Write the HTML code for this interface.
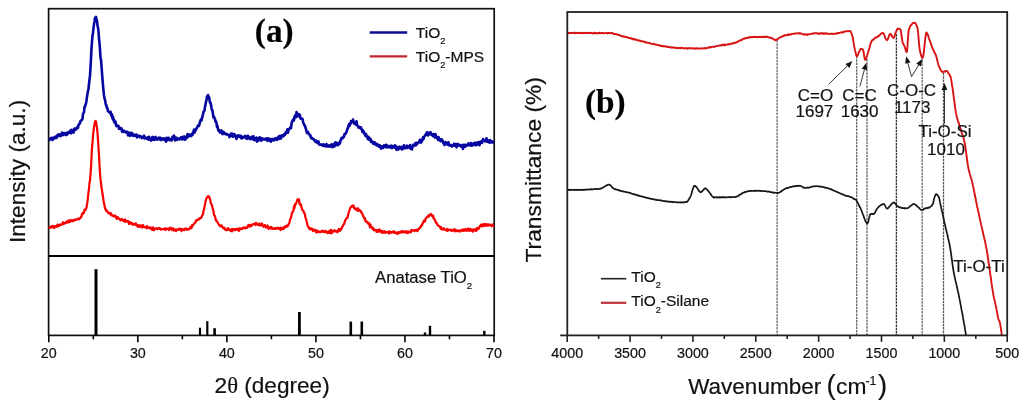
<!DOCTYPE html>
<html><head><meta charset="utf-8"><style>
html,body{margin:0;padding:0;background:#fff;}
body{width:1024px;height:405px;overflow:hidden;}
svg{display:block;will-change:transform;}
text{font-family:"Liberation Sans",sans-serif;fill:#111;stroke:#111;stroke-width:0.2px;}
.tk{font-size:14.3px;text-anchor:middle;}
.lg{font-size:15.5px;}
.lg16{font-size:16.7px;}
.sub{font-size:9.2px;}
.sub16{font-size:9.6px;}
.sup{font-size:13px;}
.lb{font-size:17px;}
.at{font-size:22.6px;}
.bl{font-family:"Liberation Serif",serif;font-weight:bold;font-size:33.3px;fill:#000;}
</style></head><body>
<svg width="1024" height="405" viewBox="0 0 1024 405">
<rect x="48.6" y="8.7" width="445.6" height="326.7" fill="none" stroke="#111" stroke-width="1.7"/>
<line x1="48.6" y1="256" x2="494" y2="256" stroke="#000" stroke-width="1.9"/>
<line x1="48.80" y1="335.3" x2="48.80" y2="342.3" stroke="#000" stroke-width="1.6"/>
<line x1="93.32" y1="335.3" x2="93.32" y2="339.3" stroke="#000" stroke-width="1.6"/>
<line x1="137.84" y1="335.3" x2="137.84" y2="342.3" stroke="#000" stroke-width="1.6"/>
<line x1="182.36" y1="335.3" x2="182.36" y2="339.3" stroke="#000" stroke-width="1.6"/>
<line x1="226.88" y1="335.3" x2="226.88" y2="342.3" stroke="#000" stroke-width="1.6"/>
<line x1="271.40" y1="335.3" x2="271.40" y2="339.3" stroke="#000" stroke-width="1.6"/>
<line x1="315.92" y1="335.3" x2="315.92" y2="342.3" stroke="#000" stroke-width="1.6"/>
<line x1="360.44" y1="335.3" x2="360.44" y2="339.3" stroke="#000" stroke-width="1.6"/>
<line x1="404.96" y1="335.3" x2="404.96" y2="342.3" stroke="#000" stroke-width="1.6"/>
<line x1="449.48" y1="335.3" x2="449.48" y2="339.3" stroke="#000" stroke-width="1.6"/>
<line x1="494.00" y1="335.3" x2="494.00" y2="342.3" stroke="#000" stroke-width="1.6"/>
<text x="48.80" y="358.0" class="tk">20</text>
<text x="137.84" y="358.0" class="tk">30</text>
<text x="226.88" y="358.0" class="tk">40</text>
<text x="315.92" y="358.0" class="tk">50</text>
<text x="404.96" y="358.0" class="tk">60</text>
<text x="494.00" y="358.0" class="tk">70</text>
<rect x="94.50" y="269.2" width="3" height="66.10" fill="#000"/>
<rect x="198.90" y="327.7" width="2.2" height="7.60" fill="#000"/>
<rect x="206.20" y="321.2" width="2.2" height="14.10" fill="#000"/>
<rect x="213.30" y="328.2" width="2.6" height="7.10" fill="#000"/>
<rect x="298.00" y="312" width="2.8" height="23.30" fill="#000"/>
<rect x="349.50" y="321.6" width="2.6" height="13.70" fill="#000"/>
<rect x="360.50" y="321.5" width="2.6" height="13.80" fill="#000"/>
<rect x="423.80" y="332.5" width="2.4" height="2.80" fill="#000"/>
<rect x="428.80" y="325.8" width="2.4" height="9.50" fill="#000"/>
<rect x="483.10" y="330.8" width="2.4" height="4.50" fill="#000"/>
<polyline points="49.00,139.80 49.50,139.96 50.00,139.16 50.50,138.31 51.00,138.62 51.50,137.86 52.00,138.84 52.50,140.08 53.00,137.89 53.50,137.58 54.00,138.63 54.50,138.31 55.00,137.86 55.50,136.55 56.00,137.37 56.50,137.99 57.00,135.57 57.50,136.37 58.00,134.61 58.50,135.11 59.00,134.33 59.50,135.92 60.00,134.61 60.50,136.12 61.00,135.83 61.50,135.28 62.00,132.55 62.50,134.55 63.00,134.92 63.50,134.93 64.00,132.95 64.50,133.93 65.00,133.20 65.50,133.20 66.00,135.07 66.50,132.82 67.00,133.46 67.50,134.27 68.00,132.45 68.50,132.77 69.00,132.81 69.50,132.55 70.00,130.92 70.50,132.13 71.00,133.32 71.50,129.89 72.00,132.28 72.50,131.21 73.00,130.09 73.50,132.71 74.00,131.03 74.50,128.54 75.00,129.58 75.50,129.73 76.00,128.42 76.50,128.85 77.00,127.44 77.50,127.62 78.00,127.80 78.50,124.76 79.00,124.99 79.50,123.49 80.00,123.33 80.50,121.01 81.00,120.70 81.50,120.02 82.00,119.99 82.50,118.77 83.00,114.28 83.50,112.85 84.00,112.27 84.50,107.10 85.00,106.49 85.50,104.57 86.00,103.64 86.50,100.48 87.00,96.66 87.50,93.71 88.00,90.72 88.50,89.36 89.00,83.60 89.50,79.59 90.00,75.39 90.50,67.77 91.00,58.50 91.50,48.20 92.00,41.99 92.50,35.97 93.00,32.84 93.50,28.09 94.00,23.97 94.50,21.71 95.00,17.90 95.50,17.82 96.00,16.91 96.50,19.67 97.00,20.68 97.50,25.69 98.00,27.43 98.50,31.72 99.00,38.64 99.50,43.04 100.00,49.52 100.50,57.40 101.00,59.81 101.50,65.97 102.00,72.84 102.50,79.40 103.00,85.47 103.50,90.77 104.00,95.41 104.50,98.43 105.00,99.53 105.50,102.99 106.00,105.13 106.50,105.56 107.00,108.32 107.50,108.21 108.00,111.21 108.50,111.22 109.00,111.89 109.50,111.89 110.00,113.13 110.50,111.81 111.00,113.56 111.50,116.08 112.00,114.29 112.50,118.56 113.00,116.71 113.50,120.47 114.00,119.68 114.50,122.39 115.00,122.53 115.50,121.45 116.00,125.23 116.50,126.14 117.00,125.16 117.50,125.58 118.00,126.33 118.50,126.03 119.00,128.87 119.50,127.59 120.00,128.61 120.50,128.23 121.00,128.81 121.50,128.46 122.00,131.60 122.50,130.39 123.00,131.95 123.50,131.21 124.00,130.74 124.50,131.44 125.00,131.46 125.50,132.36 126.00,132.19 126.50,132.52 127.00,131.57 127.50,132.43 128.00,135.35 128.50,132.99 129.00,132.77 129.50,134.48 130.00,135.83 130.50,132.84 131.00,134.36 131.50,134.04 132.00,132.93 132.50,135.81 133.00,135.10 133.50,135.33 134.00,134.53 134.50,135.97 135.00,134.99 135.50,135.52 136.00,134.56 136.50,134.54 137.00,137.44 137.50,135.50 138.00,136.47 138.50,136.20 139.00,135.84 139.50,135.86 140.00,137.19 140.50,136.25 141.00,136.51 141.50,136.79 142.00,138.15 142.50,137.69 143.00,137.46 143.50,136.51 144.00,135.70 144.50,138.36 145.00,138.47 145.50,137.35 146.00,138.19 146.50,138.55 147.00,138.69 147.50,138.88 148.00,137.46 148.50,139.71 149.00,136.77 149.50,139.17 150.00,138.85 150.50,139.35 151.00,140.54 151.50,140.19 152.00,137.37 152.50,136.85 153.00,139.68 153.50,137.73 154.00,138.90 154.50,139.91 155.00,137.24 155.50,136.78 156.00,139.44 156.50,139.26 157.00,138.99 157.50,139.34 158.00,138.39 158.50,137.71 159.00,139.23 159.50,138.37 160.00,137.65 160.50,140.03 161.00,139.42 161.50,139.94 162.00,138.41 162.50,138.78 163.00,138.40 163.50,138.52 164.00,139.70 164.50,138.62 165.00,139.86 165.50,139.84 166.00,141.68 166.50,137.90 167.00,140.40 167.50,139.31 168.00,139.37 168.50,137.77 169.00,138.84 169.50,140.14 170.00,139.21 170.50,139.36 171.00,138.93 171.50,140.49 172.00,139.17 172.50,136.74 173.00,138.36 173.50,136.92 174.00,135.48 174.50,138.43 175.00,140.44 175.50,138.99 176.00,137.60 176.50,137.81 177.00,140.04 177.50,138.93 178.00,138.76 178.50,138.60 179.00,138.64 179.50,139.44 180.00,139.10 180.50,138.68 181.00,137.23 181.50,138.88 182.00,137.51 182.50,139.40 183.00,136.73 183.50,137.92 184.00,137.99 184.50,136.46 185.00,139.70 185.50,139.27 186.00,136.99 186.50,138.16 187.00,137.52 187.50,134.00 188.00,136.90 188.50,136.29 189.00,136.18 189.50,134.61 190.00,135.20 190.50,134.98 191.00,136.10 191.50,134.73 192.00,133.88 192.50,135.06 193.00,132.22 193.50,131.81 194.00,129.63 194.50,132.71 195.00,131.38 195.50,130.65 196.00,129.67 196.50,128.34 197.00,127.74 197.50,126.47 198.00,125.72 198.50,125.15 199.00,125.84 199.50,123.82 200.00,122.13 200.50,120.49 201.00,119.30 201.50,120.57 202.00,118.09 202.50,116.24 203.00,114.32 203.50,111.91 204.00,111.37 204.50,110.57 205.00,106.86 205.50,104.39 206.00,101.83 206.50,100.12 207.00,96.46 207.50,96.40 208.00,95.06 208.50,97.45 209.00,96.85 209.50,99.95 210.00,102.68 210.50,102.60 211.00,104.67 211.50,108.02 212.00,110.00 212.50,110.80 213.00,114.20 213.50,117.63 214.00,116.75 214.50,118.34 215.00,118.85 215.50,121.76 216.00,121.45 216.50,123.01 217.00,126.98 217.50,125.82 218.00,129.13 218.50,130.58 219.00,129.94 219.50,130.80 220.00,132.80 220.50,130.86 221.00,130.81 221.50,130.33 222.00,132.19 222.50,134.07 223.00,133.78 223.50,131.94 224.00,132.27 224.50,132.87 225.00,133.95 225.50,133.59 226.00,134.24 226.50,134.50 227.00,134.01 227.50,134.45 228.00,134.88 228.50,134.70 229.00,135.48 229.50,137.12 230.00,135.83 230.50,135.36 231.00,133.56 231.50,135.95 232.00,133.49 232.50,134.18 233.00,136.76 233.50,136.69 234.00,135.84 234.50,134.20 235.00,135.76 235.50,135.50 236.00,137.03 236.50,138.89 237.00,136.71 237.50,135.69 238.00,135.33 238.50,136.62 239.00,136.56 239.50,135.55 240.00,137.01 240.50,135.68 241.00,138.23 241.50,138.23 242.00,138.32 242.50,136.66 243.00,137.80 243.50,137.15 244.00,136.92 244.50,137.03 245.00,136.03 245.50,135.92 246.00,138.44 246.50,137.41 247.00,137.91 247.50,138.83 248.00,135.87 248.50,136.97 249.00,138.08 249.50,138.38 250.00,137.59 250.50,139.19 251.00,138.35 251.50,136.84 252.00,137.21 252.50,139.19 253.00,138.87 253.50,136.34 254.00,139.98 254.50,139.22 255.00,140.10 255.50,138.27 256.00,138.43 256.50,137.59 257.00,141.68 257.50,138.77 258.00,140.77 258.50,138.38 259.00,139.33 259.50,137.38 260.00,138.86 260.50,140.42 261.00,138.02 261.50,140.63 262.00,139.88 262.50,138.41 263.00,139.06 263.50,139.16 264.00,139.65 264.50,139.16 265.00,138.88 265.50,139.49 266.00,138.73 266.50,138.48 267.00,139.87 267.50,140.92 268.00,138.28 268.50,139.98 269.00,139.28 269.50,138.92 270.00,140.94 270.50,139.42 271.00,141.62 271.50,139.09 272.00,140.33 272.50,139.60 273.00,138.95 273.50,140.35 274.00,139.45 274.50,140.18 275.00,139.36 275.50,138.10 276.00,139.05 276.50,139.09 277.00,139.94 277.50,137.73 278.00,138.52 278.50,136.50 279.00,138.94 279.50,136.84 280.00,135.85 280.50,137.57 281.00,138.65 281.50,135.54 282.00,135.80 282.50,135.90 283.00,135.09 283.50,136.28 284.00,134.45 284.50,133.97 285.00,134.81 285.50,132.74 286.00,133.48 286.50,131.38 287.00,130.56 287.50,129.31 288.00,132.80 288.50,129.78 289.00,129.75 289.50,128.74 290.00,128.18 290.50,127.14 291.00,128.10 291.50,123.65 292.00,121.81 292.50,121.14 293.00,119.57 293.50,120.75 294.00,119.90 294.50,117.07 295.00,115.70 295.50,115.99 296.00,117.20 296.50,112.08 297.00,115.58 297.50,113.87 298.00,116.36 298.50,114.27 299.00,115.44 299.50,114.46 300.00,115.43 300.50,118.59 301.00,118.79 301.50,118.44 302.00,119.00 302.50,118.92 303.00,121.62 303.50,123.17 304.00,124.31 304.50,125.51 305.00,125.57 305.50,127.88 306.00,128.96 306.50,131.41 307.00,133.02 307.50,131.77 308.00,132.00 308.50,133.65 309.00,133.88 309.50,134.50 310.00,135.94 310.50,135.49 311.00,137.91 311.50,137.71 312.00,138.66 312.50,138.71 313.00,138.62 313.50,138.86 314.00,140.10 314.50,140.20 315.00,141.48 315.50,141.62 316.00,140.50 316.50,142.45 317.00,141.28 317.50,142.46 318.00,143.19 318.50,141.59 319.00,144.32 319.50,144.70 320.00,144.64 320.50,144.59 321.00,144.85 321.50,144.34 322.00,145.20 322.50,144.95 323.00,145.71 323.50,144.34 324.00,145.97 324.50,145.91 325.00,145.64 325.50,145.35 326.00,146.47 326.50,144.07 327.00,146.43 327.50,146.21 328.00,146.28 328.50,146.40 329.00,145.27 329.50,145.71 330.00,146.70 330.50,146.46 331.00,146.19 331.50,144.25 332.00,146.45 332.50,147.07 333.00,146.80 333.50,145.84 334.00,143.75 334.50,146.37 335.00,145.03 335.50,142.25 336.00,145.28 336.50,143.05 337.00,143.07 337.50,143.53 338.00,145.22 338.50,142.90 339.00,143.00 339.50,143.97 340.00,143.11 340.50,140.55 341.00,139.73 341.50,137.96 342.00,137.90 342.50,138.42 343.00,137.65 343.50,136.57 344.00,136.75 344.50,133.99 345.00,133.94 345.50,133.88 346.00,132.70 346.50,132.15 347.00,130.30 347.50,128.44 348.00,128.14 348.50,125.70 349.00,124.20 349.50,125.89 350.00,124.41 350.50,124.06 351.00,121.18 351.50,122.10 352.00,121.47 352.50,121.05 353.00,119.59 353.50,121.90 354.00,123.54 354.50,123.32 355.00,122.61 355.50,123.64 356.00,124.83 356.50,121.29 357.00,124.52 357.50,125.60 358.00,126.10 358.50,127.60 359.00,127.37 359.50,126.89 360.00,127.33 360.50,128.36 361.00,127.46 361.50,128.61 362.00,130.28 362.50,132.10 363.00,130.45 363.50,131.26 364.00,132.22 364.50,134.20 365.00,133.47 365.50,135.93 366.00,134.07 366.50,135.74 367.00,136.49 367.50,138.26 368.00,139.15 368.50,136.87 369.00,138.04 369.50,139.90 370.00,139.26 370.50,138.76 371.00,141.99 371.50,141.79 372.00,142.18 372.50,141.48 373.00,143.48 373.50,142.42 374.00,144.21 374.50,142.31 375.00,142.70 375.50,144.18 376.00,143.50 376.50,145.32 377.00,145.16 377.50,144.12 378.00,145.46 378.50,145.21 379.00,146.78 379.50,145.21 380.00,145.52 380.50,147.40 381.00,148.59 381.50,148.38 382.00,146.31 382.50,146.53 383.00,148.02 383.50,146.24 384.00,145.35 384.50,146.59 385.00,147.00 385.50,145.63 386.00,144.76 386.50,145.02 387.00,147.37 387.50,145.83 388.00,146.54 388.50,146.95 389.00,147.42 389.50,146.40 390.00,147.34 390.50,145.83 391.00,146.43 391.50,145.73 392.00,148.12 392.50,146.86 393.00,146.10 393.50,146.55 394.00,146.71 394.50,147.75 395.00,145.24 395.50,145.88 396.00,146.63 396.50,149.85 397.00,148.14 397.50,146.99 398.00,147.92 398.50,149.42 399.00,146.93 399.50,146.80 400.00,148.56 400.50,147.79 401.00,148.01 401.50,146.73 402.00,149.43 402.50,149.21 403.00,147.97 403.50,148.12 404.00,145.16 404.50,148.11 405.00,147.21 405.50,147.91 406.00,148.20 406.50,147.08 407.00,145.61 407.50,147.88 408.00,146.67 408.50,147.13 409.00,146.83 409.50,147.12 410.00,144.96 410.50,148.81 411.00,147.68 411.50,148.51 412.00,149.32 412.50,146.97 413.00,144.74 413.50,145.48 414.00,144.85 414.50,145.31 415.00,145.61 415.50,142.96 416.00,145.17 416.50,142.74 417.00,144.33 417.50,143.47 418.00,142.83 418.50,142.67 419.00,141.74 419.50,141.24 420.00,139.65 420.50,141.02 421.00,142.57 421.50,142.15 422.00,140.82 422.50,139.53 423.00,137.40 423.50,139.14 424.00,136.94 424.50,136.35 425.00,135.46 425.50,135.22 426.00,133.99 426.50,133.80 427.00,132.23 427.50,132.70 428.00,135.51 428.50,132.95 429.00,132.83 429.50,133.77 430.00,134.10 430.50,132.25 431.00,133.41 431.50,134.83 432.00,134.30 432.50,134.35 433.00,136.19 433.50,134.05 434.00,135.24 434.50,134.95 435.00,137.56 435.50,134.18 436.00,135.99 436.50,136.54 437.00,138.23 437.50,138.54 438.00,139.81 438.50,136.96 439.00,139.95 439.50,139.25 440.00,139.29 440.50,141.06 441.00,139.89 441.50,139.04 442.00,141.32 442.50,140.47 443.00,141.76 443.50,143.20 444.00,143.42 444.50,145.06 445.00,143.28 445.50,141.97 446.00,142.98 446.50,142.94 447.00,142.76 447.50,144.71 448.00,143.65 448.50,142.30 449.00,145.36 449.50,144.58 450.00,145.20 450.50,145.02 451.00,145.69 451.50,145.12 452.00,146.51 452.50,145.69 453.00,145.72 453.50,145.80 454.00,143.81 454.50,145.28 455.00,145.21 455.50,145.77 456.00,144.08 456.50,147.41 457.00,145.77 457.50,144.36 458.00,143.85 458.50,145.45 459.00,145.69 459.50,145.03 460.00,145.95 460.50,145.17 461.00,146.51 461.50,145.13 462.00,145.90 462.50,147.04 463.00,148.80 463.50,144.88 464.00,145.48 464.50,145.07 465.00,146.86 465.50,144.73 466.00,145.43 466.50,145.90 467.00,144.80 467.50,144.76 468.00,145.21 468.50,143.33 469.00,143.96 469.50,144.99 470.00,145.49 470.50,145.00 471.00,143.13 471.50,144.44 472.00,145.69 472.50,145.29 473.00,144.46 473.50,143.43 474.00,144.96 474.50,143.50 475.00,142.71 475.50,142.98 476.00,145.31 476.50,143.80 477.00,144.67 477.50,142.69 478.00,144.07 478.50,142.19 479.00,142.49 479.50,145.21 480.00,143.12 480.50,141.53 481.00,141.79 481.50,142.05 482.00,142.83 482.50,140.75 483.00,139.13 483.50,140.48 484.00,140.54 484.50,140.38 485.00,141.47 485.50,140.16 486.00,140.54 486.50,138.33 487.00,140.45 487.50,141.89 488.00,140.64 488.50,140.37 489.00,140.59 489.50,142.70 490.00,139.98 490.50,141.09 491.00,141.93 491.50,142.44 492.00,141.33 492.50,142.34 493.00,141.87 493.50,142.48 494.00,142.35" fill="none" stroke="#0606a0" stroke-width="2.6" stroke-linejoin="round"/>
<polyline points="49.00,226.70 49.50,227.40 50.00,227.95 50.50,226.57 51.00,226.98 51.50,227.51 52.00,226.19 52.50,226.96 53.00,225.98 53.50,227.40 54.00,228.10 54.50,227.77 55.00,226.08 55.50,226.62 56.00,226.05 56.50,225.90 57.00,226.77 57.50,224.62 58.00,226.14 58.50,225.22 59.00,226.09 59.50,225.08 60.00,224.33 60.50,224.83 61.00,224.98 61.50,224.30 62.00,224.42 62.50,223.51 63.00,222.17 63.50,224.08 64.00,223.72 64.50,223.11 65.00,222.84 65.50,223.30 66.00,222.04 66.50,221.66 67.00,221.83 67.50,222.61 68.00,220.63 68.50,222.27 69.00,220.85 69.50,220.39 70.00,221.92 70.50,220.86 71.00,219.91 71.50,220.47 72.00,221.28 72.50,221.36 73.00,220.13 73.50,220.62 74.00,220.73 74.50,219.67 75.00,220.25 75.50,219.85 76.00,219.36 76.50,219.24 77.00,219.47 77.50,219.26 78.00,218.64 78.50,218.51 79.00,219.34 79.50,218.42 80.00,218.37 80.50,217.87 81.00,216.59 81.50,216.85 82.00,213.76 82.50,214.07 83.00,212.56 83.50,213.45 84.00,212.75 84.50,209.57 85.00,209.56 85.50,209.87 86.00,208.93 86.50,207.62 87.00,204.67 87.50,201.21 88.00,196.84 88.50,191.87 89.00,188.74 89.50,182.69 90.00,180.55 90.50,174.28 91.00,167.86 91.50,157.16 92.00,147.85 92.50,142.42 93.00,135.97 93.50,131.21 94.00,126.90 94.50,124.49 95.00,121.90 95.50,121.02 96.00,121.38 96.50,125.11 97.00,128.01 97.50,132.88 98.00,140.10 98.50,147.84 99.00,155.60 99.50,165.45 100.00,173.68 100.50,179.17 101.00,182.78 101.50,187.80 102.00,190.16 102.50,194.09 103.00,196.51 103.50,200.48 104.00,203.32 104.50,205.10 105.00,208.51 105.50,208.62 106.00,210.70 106.50,211.07 107.00,210.75 107.50,211.64 108.00,212.80 108.50,213.03 109.00,213.47 109.50,213.65 110.00,212.97 110.50,214.43 111.00,213.36 111.50,215.47 112.00,214.99 112.50,215.26 113.00,215.86 113.50,216.46 114.00,215.51 114.50,215.53 115.00,216.25 115.50,215.79 116.00,216.77 116.50,218.78 117.00,217.13 117.50,218.53 118.00,217.30 118.50,218.66 119.00,218.42 119.50,218.78 120.00,219.39 120.50,220.40 121.00,219.48 121.50,219.60 122.00,219.00 122.50,220.26 123.00,219.84 123.50,220.77 124.00,220.33 124.50,221.75 125.00,219.32 125.50,220.67 126.00,221.68 126.50,221.01 127.00,220.89 127.50,221.45 128.00,220.88 128.50,222.15 129.00,224.00 129.50,223.33 130.00,221.98 130.50,222.39 131.00,222.95 131.50,224.17 132.00,223.12 132.50,223.43 133.00,224.74 133.50,224.92 134.00,224.23 134.50,223.87 135.00,223.72 135.50,224.44 136.00,223.50 136.50,225.72 137.00,224.88 137.50,225.79 138.00,226.88 138.50,226.52 139.00,225.02 139.50,226.55 140.00,226.87 140.50,225.66 141.00,225.63 141.50,226.33 142.00,225.40 142.50,227.66 143.00,225.06 143.50,226.07 144.00,226.76 144.50,226.90 145.00,227.27 145.50,227.44 146.00,227.20 146.50,228.24 147.00,226.03 147.50,227.62 148.00,227.20 148.50,227.88 149.00,228.02 149.50,227.31 150.00,227.57 150.50,228.64 151.00,228.40 151.50,227.75 152.00,229.71 152.50,229.96 153.00,227.38 153.50,228.66 154.00,230.26 154.50,229.10 155.00,228.75 155.50,228.48 156.00,228.29 156.50,228.55 157.00,228.34 157.50,229.27 158.00,228.49 158.50,228.49 159.00,227.98 159.50,228.80 160.00,228.23 160.50,228.75 161.00,229.63 161.50,229.18 162.00,229.30 162.50,229.21 163.00,229.02 163.50,228.91 164.00,228.81 164.50,229.57 165.00,228.30 165.50,230.02 166.00,229.12 166.50,228.59 167.00,228.79 167.50,228.67 168.00,229.27 168.50,228.68 169.00,229.99 169.50,228.66 170.00,227.63 170.50,228.73 171.00,227.85 171.50,229.24 172.00,230.02 172.50,229.75 173.00,228.37 173.50,228.79 174.00,230.58 174.50,229.57 175.00,229.36 175.50,230.11 176.00,231.09 176.50,230.29 177.00,229.49 177.50,229.65 178.00,229.85 178.50,228.99 179.00,228.69 179.50,229.48 180.00,228.78 180.50,229.41 181.00,229.53 181.50,231.10 182.00,228.88 182.50,229.39 183.00,229.37 183.50,229.79 184.00,230.22 184.50,229.15 185.00,228.92 185.50,228.35 186.00,228.85 186.50,229.87 187.00,229.53 187.50,228.79 188.00,229.19 188.50,229.34 189.00,229.46 189.50,228.41 190.00,228.30 190.50,226.79 191.00,226.80 191.50,228.23 192.00,225.02 192.50,225.73 193.00,225.52 193.50,224.49 194.00,223.56 194.50,223.45 195.00,222.86 195.50,222.18 196.00,220.32 196.50,220.95 197.00,219.91 197.50,219.62 198.00,219.70 198.50,219.58 199.00,219.37 199.50,218.01 200.00,218.61 200.50,218.35 201.00,217.83 201.50,217.43 202.00,215.69 202.50,214.88 203.00,214.29 203.50,210.82 204.00,209.62 204.50,206.74 205.00,204.74 205.50,201.63 206.00,199.84 206.50,198.24 207.00,197.25 207.50,196.69 208.00,196.09 208.50,196.38 209.00,196.42 209.50,198.14 210.00,199.05 210.50,201.27 211.00,203.73 211.50,204.22 212.00,205.18 212.50,207.71 213.00,209.37 213.50,211.49 214.00,214.91 214.50,215.66 215.00,215.93 215.50,218.87 216.00,220.60 216.50,220.62 217.00,221.34 217.50,222.26 218.00,223.23 218.50,224.00 219.00,224.89 219.50,225.39 220.00,225.85 220.50,226.42 221.00,226.37 221.50,225.25 222.00,226.62 222.50,227.31 223.00,227.18 223.50,228.42 224.00,227.85 224.50,227.74 225.00,229.67 225.50,229.38 226.00,229.29 226.50,229.98 227.00,230.25 227.50,229.89 228.00,228.06 228.50,229.40 229.00,229.62 229.50,229.30 230.00,230.14 230.50,230.83 231.00,229.64 231.50,229.17 232.00,231.35 232.50,229.58 233.00,228.99 233.50,229.97 234.00,230.04 234.50,229.19 235.00,230.16 235.50,229.19 236.00,228.81 236.50,229.49 237.00,229.82 237.50,228.74 238.00,229.32 238.50,228.92 239.00,230.86 239.50,228.28 240.00,229.63 240.50,228.51 241.00,228.35 241.50,228.83 242.00,228.83 242.50,228.97 243.00,228.20 243.50,227.43 244.00,227.36 244.50,227.97 245.00,227.91 245.50,228.35 246.00,227.51 246.50,227.78 247.00,227.90 247.50,226.74 248.00,225.36 248.50,225.35 249.00,224.93 249.50,226.81 250.00,224.87 250.50,226.09 251.00,225.42 251.50,226.00 252.00,225.31 252.50,224.37 253.00,224.15 253.50,224.23 254.00,224.20 254.50,223.65 255.00,223.98 255.50,225.14 256.00,222.84 256.50,224.26 257.00,223.50 257.50,224.34 258.00,224.88 258.50,224.35 259.00,225.04 259.50,223.50 260.00,225.50 260.50,224.43 261.00,225.42 261.50,225.24 262.00,223.44 262.50,224.85 263.00,225.67 263.50,226.73 264.00,225.97 264.50,226.07 265.00,225.01 265.50,227.12 266.00,227.50 266.50,226.39 267.00,226.36 267.50,225.53 268.00,227.43 268.50,228.86 269.00,227.63 269.50,228.17 270.00,227.83 270.50,226.92 271.00,228.70 271.50,227.05 272.00,227.92 272.50,228.40 273.00,228.96 273.50,228.76 274.00,228.85 274.50,228.15 275.00,227.87 275.50,228.90 276.00,228.42 276.50,228.05 277.00,228.10 277.50,228.66 278.00,227.70 278.50,228.03 279.00,227.79 279.50,229.01 280.00,229.09 280.50,230.13 281.00,227.58 281.50,228.04 282.00,229.02 282.50,228.09 283.00,227.85 283.50,229.11 284.00,227.48 284.50,226.71 285.00,226.38 285.50,227.31 286.00,227.04 286.50,225.60 287.00,225.60 287.50,226.37 288.00,225.91 288.50,224.22 289.00,223.98 289.50,222.59 290.00,219.42 290.50,218.81 291.00,217.62 291.50,215.24 292.00,212.51 292.50,212.30 293.00,211.50 293.50,210.46 294.00,206.20 294.50,208.07 295.00,204.21 295.50,204.55 296.00,203.61 296.50,202.38 297.00,200.92 297.50,199.41 298.00,200.44 298.50,199.80 299.00,199.27 299.50,203.99 300.00,203.50 300.50,205.28 301.00,204.51 301.50,207.44 302.00,208.86 302.50,210.21 303.00,210.49 303.50,211.01 304.00,213.04 304.50,213.06 305.00,214.96 305.50,217.84 306.00,218.74 306.50,220.96 307.00,222.59 307.50,225.51 308.00,226.43 308.50,226.67 309.00,228.51 309.50,227.81 310.00,228.51 310.50,229.61 311.00,228.32 311.50,229.20 312.00,228.66 312.50,229.86 313.00,231.10 313.50,229.60 314.00,230.45 314.50,229.82 315.00,229.79 315.50,229.87 316.00,231.89 316.50,232.65 317.00,231.45 317.50,230.72 318.00,231.82 318.50,231.19 319.00,232.07 319.50,231.79 320.00,231.86 320.50,232.15 321.00,231.38 321.50,231.55 322.00,230.67 322.50,231.61 323.00,230.95 323.50,231.87 324.00,231.32 324.50,232.07 325.00,232.32 325.50,231.00 326.00,231.42 326.50,231.32 327.00,232.49 327.50,233.14 328.00,232.52 328.50,231.66 329.00,232.89 329.50,230.77 330.00,232.84 330.50,231.29 331.00,229.76 331.50,233.50 332.00,232.70 332.50,230.81 333.00,231.58 333.50,231.24 334.00,231.38 334.50,230.19 335.00,230.67 335.50,231.38 336.00,231.11 336.50,231.69 337.00,230.80 337.50,232.28 338.00,230.02 338.50,230.58 339.00,228.93 339.50,229.26 340.00,230.93 340.50,229.09 341.00,229.66 341.50,228.60 342.00,227.12 342.50,226.69 343.00,225.56 343.50,224.48 344.00,224.22 344.50,222.99 345.00,220.99 345.50,219.65 346.00,219.44 346.50,218.18 347.00,217.85 347.50,217.75 348.00,215.17 348.50,213.20 349.00,211.75 349.50,209.96 350.00,208.71 350.50,207.55 351.00,207.05 351.50,206.32 352.00,206.68 352.50,205.72 353.00,205.97 353.50,205.54 354.00,207.95 354.50,207.63 355.00,209.00 355.50,208.74 356.00,209.54 356.50,208.54 357.00,209.39 357.50,210.93 358.00,208.31 358.50,210.14 359.00,210.68 359.50,210.01 360.00,210.54 360.50,211.45 361.00,211.00 361.50,212.90 362.00,213.21 362.50,214.53 363.00,215.56 363.50,216.74 364.00,217.76 364.50,218.77 365.00,218.20 365.50,221.36 366.00,221.47 366.50,221.82 367.00,221.67 367.50,222.44 368.00,223.45 368.50,223.92 369.00,222.98 369.50,225.29 370.00,227.41 370.50,224.55 371.00,227.13 371.50,227.22 372.00,227.39 372.50,228.94 373.00,227.58 373.50,228.99 374.00,230.33 374.50,229.52 375.00,229.69 375.50,230.37 376.00,230.23 376.50,231.86 377.00,230.25 377.50,231.63 378.00,230.17 378.50,231.62 379.00,231.13 379.50,229.41 380.00,231.32 380.50,230.62 381.00,231.12 381.50,232.61 382.00,230.75 382.50,230.85 383.00,232.70 383.50,231.79 384.00,232.87 384.50,232.04 385.00,231.22 385.50,231.85 386.00,232.82 386.50,232.66 387.00,232.02 387.50,232.09 388.00,232.01 388.50,231.71 389.00,233.55 389.50,232.19 390.00,231.40 390.50,231.90 391.00,232.79 391.50,232.76 392.00,232.22 392.50,231.86 393.00,232.38 393.50,231.18 394.00,231.46 394.50,232.99 395.00,232.09 395.50,232.71 396.00,233.33 396.50,232.93 397.00,232.49 397.50,234.01 398.00,232.97 398.50,232.24 399.00,233.02 399.50,232.79 400.00,231.88 400.50,232.55 401.00,232.37 401.50,231.07 402.00,232.34 402.50,232.25 403.00,232.11 403.50,231.22 404.00,232.12 404.50,232.31 405.00,232.37 405.50,231.44 406.00,232.67 406.50,231.29 407.00,231.94 407.50,232.99 408.00,231.49 408.50,231.55 409.00,232.62 409.50,231.50 410.00,231.48 410.50,231.77 411.00,232.28 411.50,229.84 412.00,230.74 412.50,230.51 413.00,230.35 413.50,230.41 414.00,230.30 414.50,231.01 415.00,230.03 415.50,230.63 416.00,230.70 416.50,229.76 417.00,230.24 417.50,231.17 418.00,230.01 418.50,228.98 419.00,228.92 419.50,227.75 420.00,227.95 420.50,227.65 421.00,225.67 421.50,225.29 422.00,225.40 422.50,223.41 423.00,223.06 423.50,221.39 424.00,220.77 424.50,220.27 425.00,221.52 425.50,219.07 426.00,218.29 426.50,217.54 427.00,217.09 427.50,216.96 428.00,215.99 428.50,216.75 429.00,215.03 429.50,215.61 430.00,214.69 430.50,215.03 431.00,213.89 431.50,215.25 432.00,215.81 432.50,216.26 433.00,215.49 433.50,218.28 434.00,218.25 434.50,219.21 435.00,220.40 435.50,221.50 436.00,222.98 436.50,222.75 437.00,223.77 437.50,225.20 438.00,225.55 438.50,225.62 439.00,225.91 439.50,226.14 440.00,227.08 440.50,228.34 441.00,227.14 441.50,229.30 442.00,229.15 442.50,228.56 443.00,229.71 443.50,228.40 444.00,228.45 444.50,228.98 445.00,229.78 445.50,229.99 446.00,229.98 446.50,230.50 447.00,228.99 447.50,230.85 448.00,229.51 448.50,230.04 449.00,230.21 449.50,229.69 450.00,229.54 450.50,229.79 451.00,230.49 451.50,230.91 452.00,230.89 452.50,229.79 453.00,229.93 453.50,229.84 454.00,230.79 454.50,229.05 455.00,231.34 455.50,230.13 456.00,229.91 456.50,230.70 457.00,231.18 457.50,230.69 458.00,231.18 458.50,230.53 459.00,231.29 459.50,231.29 460.00,230.35 460.50,231.41 461.00,230.51 461.50,230.45 462.00,229.74 462.50,230.17 463.00,230.91 463.50,229.43 464.00,230.80 464.50,230.58 465.00,230.52 465.50,228.77 466.00,230.23 466.50,230.74 467.00,229.74 467.50,230.32 468.00,228.58 468.50,230.70 469.00,229.75 469.50,230.81 470.00,228.89 470.50,230.65 471.00,229.99 471.50,230.70 472.00,229.47 472.50,229.67 473.00,231.65 473.50,229.48 474.00,229.55 474.50,229.83 475.00,229.28 475.50,230.76 476.00,230.98 476.50,229.03 477.00,228.01 477.50,229.68 478.00,229.22 478.50,228.59 479.00,228.36 479.50,226.48 480.00,226.51 480.50,225.21 481.00,224.77 481.50,226.07 482.00,224.59 482.50,226.39 483.00,224.66 483.50,224.06 484.00,225.06 484.50,225.79 485.00,224.92 485.50,223.79 486.00,224.98 486.50,225.76 487.00,224.53 487.50,224.40 488.00,225.71 488.50,225.15 489.00,224.32 489.50,224.88 490.00,224.66 490.50,225.44 491.00,225.35 491.50,226.12 492.00,225.85 492.50,224.30 493.00,225.72 493.50,226.10 494.00,225.82" fill="none" stroke="#f80000" stroke-width="2.2" stroke-linejoin="round"/>
<line x1="369.7" y1="32.5" x2="407.2" y2="32.5" stroke="#0c0c96" stroke-width="2.4"/>
<line x1="369.7" y1="56.4" x2="407.2" y2="56.4" stroke="#c0282d" stroke-width="2.2"/>
<text x="415.8" y="37.7" class="lg">TiO<tspan class="sub" dy="6.3">2</tspan></text>
<text x="415.8" y="61.6" class="lg">TiO<tspan class="sub" dy="6.3">2</tspan><tspan dy="-6.3">-MPS</tspan></text>
<text x="375" y="283.1" class="lg16">Anatase TiO<tspan class="sub16" dy="5.9">2</tspan></text>
<text x="254.8" y="41.7" class="bl">(a)</text>
<text transform="translate(25.3,243.0) rotate(-90)" class="at">Intensity (a.u.)</text>
<text x="214.6" y="392.8" class="at">2<tspan font-family="Liberation Serif">θ</tspan> (degree)</text>
<line x1="777.1" y1="40" x2="777.1" y2="335" stroke="#6a6a6a" stroke-width="1.3" stroke-dasharray="2.5,0.8"/>
<line x1="856.7" y1="56" x2="856.7" y2="335" stroke="#666" stroke-width="1.3" stroke-dasharray="2.5,0.8"/>
<line x1="867.0" y1="59" x2="867.0" y2="335" stroke="#666" stroke-width="1.3" stroke-dasharray="2.5,0.8"/>
<line x1="896.4" y1="34" x2="896.4" y2="335" stroke="#333" stroke-width="1.3" stroke-dasharray="2.5,0.8"/>
<line x1="922.2" y1="57" x2="922.2" y2="335" stroke="#6a6a6a" stroke-width="1.3" stroke-dasharray="2.5,0.8"/>
<line x1="943.5" y1="73" x2="943.5" y2="335" stroke="#555" stroke-width="1.3" stroke-dasharray="2.5,0.8"/>
<polyline points="567.00,190.15 567.50,189.92 568.00,189.86 568.50,190.14 569.00,189.84 569.50,189.67 570.00,190.15 570.50,189.88 571.00,189.94 571.50,189.77 572.00,189.78 572.50,189.80 573.00,189.92 573.50,190.02 574.00,189.61 574.50,190.07 575.00,189.77 575.50,189.78 576.00,190.03 576.50,189.91 577.00,189.68 577.50,190.18 578.00,189.77 578.50,189.92 579.00,189.90 579.50,190.07 580.00,189.78 580.50,189.99 581.00,189.71 581.50,189.98 582.00,189.68 582.50,189.72 583.00,190.04 583.50,189.79 584.00,189.74 584.50,190.04 585.00,189.74 585.50,189.55 586.00,189.76 586.50,189.45 587.00,189.77 587.50,189.76 588.00,189.47 588.50,189.44 589.00,189.54 589.50,189.49 590.00,189.31 590.50,189.52 591.00,189.10 591.50,189.31 592.00,189.28 592.50,189.27 593.00,189.33 593.50,189.07 594.00,189.31 594.50,189.16 595.00,189.05 595.50,188.91 596.00,188.90 596.50,189.09 597.00,188.86 597.50,188.97 598.00,189.08 598.50,189.03 599.00,189.07 599.50,188.75 600.00,188.59 600.50,188.82 601.00,188.56 601.50,188.46 602.00,188.04 602.50,187.92 603.00,187.56 603.50,187.22 604.00,186.88 604.50,186.57 605.00,186.28 605.50,186.02 606.00,185.83 606.50,185.30 607.00,185.34 607.50,184.80 608.00,184.77 608.50,184.50 609.00,184.49 609.50,185.00 610.00,184.97 610.50,185.26 611.00,185.84 611.50,186.45 612.00,187.36 612.50,187.59 613.00,188.15 613.50,188.22 614.00,188.66 614.50,188.93 615.00,189.30 615.50,189.12 616.00,189.50 616.50,189.64 617.00,189.61 617.50,189.92 618.00,190.04 618.50,189.88 619.00,190.46 619.50,190.59 620.00,190.58 620.50,190.57 621.00,191.12 621.50,191.05 622.00,191.28 622.50,191.46 623.00,191.28 623.50,191.59 624.00,191.55 624.50,191.68 625.00,191.79 625.50,191.91 626.00,192.19 626.50,192.15 627.00,192.23 627.50,192.32 628.00,192.54 628.50,192.47 629.00,192.66 629.50,192.86 630.00,192.92 630.50,193.12 631.00,193.19 631.50,193.72 632.00,193.77 632.50,193.78 633.00,193.85 633.50,194.33 634.00,194.20 634.50,194.29 635.00,194.50 635.50,194.65 636.00,194.96 636.50,194.90 637.00,195.37 637.50,195.07 638.00,195.46 638.50,195.35 639.00,195.93 639.50,195.75 640.00,195.94 640.50,196.24 641.00,196.44 641.50,196.23 642.00,196.49 642.50,196.48 643.00,196.85 643.50,196.95 644.00,197.06 644.50,197.14 645.00,197.32 645.50,197.40 646.00,197.73 646.50,198.00 647.00,197.61 647.50,198.01 648.00,198.09 648.50,198.34 649.00,198.24 649.50,198.48 650.00,198.45 650.50,198.82 651.00,198.83 651.50,198.90 652.00,199.07 652.50,199.08 653.00,198.98 653.50,199.40 654.00,199.44 654.50,199.47 655.00,199.73 655.50,199.86 656.00,199.60 656.50,199.74 657.00,200.17 657.50,200.24 658.00,200.00 658.50,200.02 659.00,200.18 659.50,200.28 660.00,200.20 660.50,200.52 661.00,200.40 661.50,200.48 662.00,200.88 662.50,200.71 663.00,200.87 663.50,201.04 664.00,201.14 664.50,201.03 665.00,201.15 665.50,201.09 666.00,201.53 666.50,201.43 667.00,201.22 667.50,201.45 668.00,201.61 668.50,201.63 669.00,201.88 669.50,201.87 670.00,201.64 670.50,201.77 671.00,201.64 671.50,201.93 672.00,201.97 672.50,202.41 673.00,202.07 673.50,201.80 674.00,202.06 674.50,202.23 675.00,202.07 675.50,202.17 676.00,202.28 676.50,202.42 677.00,202.38 677.50,202.30 678.00,202.57 678.50,202.39 679.00,202.41 679.50,202.29 680.00,202.38 680.50,202.59 681.00,202.24 681.50,202.46 682.00,202.56 682.50,202.36 683.00,202.42 683.50,202.18 684.00,202.49 684.50,202.41 685.00,202.22 685.50,201.85 686.00,201.88 686.50,202.08 687.00,201.90 687.50,201.23 688.00,200.78 688.50,199.80 689.00,199.09 689.50,198.31 690.00,197.56 690.50,196.26 691.00,195.27 691.50,193.75 692.00,191.68 692.50,189.95 693.00,188.64 693.50,187.15 694.00,185.91 694.50,185.87 695.00,185.77 695.50,185.95 696.00,186.81 696.50,187.14 697.00,187.75 697.50,188.67 698.00,189.31 698.50,190.13 699.00,191.00 699.50,191.43 700.00,191.85 700.50,192.34 701.00,192.15 701.50,191.87 702.00,191.39 702.50,190.85 703.00,190.41 703.50,189.61 704.00,189.37 704.50,188.54 705.00,188.41 705.50,188.21 706.00,188.57 706.50,189.09 707.00,189.76 707.50,190.05 708.00,190.80 708.50,191.38 709.00,191.89 709.50,192.40 710.00,193.27 710.50,193.74 711.00,194.77 711.50,195.48 712.00,196.03 712.50,196.53 713.00,196.87 713.50,197.56 714.00,197.10 714.50,197.53 715.00,197.39 715.50,197.24 716.00,197.12 716.50,197.45 717.00,197.55 717.50,197.15 718.00,197.24 718.50,197.44 719.00,197.33 719.50,197.58 720.00,197.19 720.50,197.35 721.00,197.08 721.50,197.58 722.00,197.15 722.50,196.92 723.00,197.23 723.50,197.22 724.00,197.52 724.50,197.18 725.00,197.22 725.50,197.30 726.00,197.45 726.50,197.19 727.00,197.35 727.50,197.26 728.00,197.13 728.50,197.18 729.00,197.16 729.50,197.01 730.00,197.31 730.50,196.91 731.00,197.29 731.50,197.24 732.00,197.07 732.50,196.96 733.00,197.02 733.50,197.12 734.00,197.14 734.50,197.06 735.00,197.15 735.50,196.87 736.00,196.89 736.50,196.47 737.00,196.63 737.50,196.31 738.00,195.97 738.50,195.91 739.00,195.53 739.50,194.68 740.00,194.77 740.50,194.21 741.00,194.24 741.50,194.12 742.00,193.34 742.50,193.12 743.00,192.79 743.50,192.62 744.00,192.43 744.50,192.34 745.00,191.85 745.50,192.11 746.00,191.62 746.50,191.68 747.00,191.69 747.50,191.51 748.00,191.16 748.50,191.09 749.00,191.03 749.50,191.01 750.00,191.11 750.50,190.68 751.00,190.89 751.50,190.87 752.00,190.84 752.50,190.82 753.00,190.98 753.50,190.83 754.00,190.89 754.50,190.85 755.00,191.05 755.50,190.50 756.00,190.99 756.50,190.78 757.00,190.79 757.50,190.71 758.00,190.59 758.50,190.83 759.00,190.81 759.50,191.01 760.00,190.74 760.50,191.20 761.00,191.05 761.50,191.00 762.00,190.96 762.50,190.98 763.00,190.96 763.50,191.08 764.00,191.19 764.50,191.19 765.00,191.04 765.50,191.25 766.00,191.20 766.50,191.42 767.00,191.74 767.50,191.63 768.00,191.56 768.50,191.45 769.00,191.58 769.50,191.63 770.00,192.09 770.50,191.96 771.00,192.18 771.50,192.18 772.00,192.38 772.50,192.67 773.00,192.44 773.50,192.58 774.00,192.59 774.50,192.91 775.00,192.69 775.50,192.73 776.00,192.73 776.50,192.76 777.00,193.06 777.50,193.39 778.00,192.81 778.50,193.00 779.00,192.73 779.50,192.30 780.00,192.16 780.50,191.86 781.00,191.46 781.50,191.50 782.00,190.56 782.50,190.52 783.00,190.14 783.50,189.64 784.00,189.40 784.50,189.19 785.00,188.80 785.50,188.59 786.00,188.43 786.50,187.87 787.00,188.26 787.50,188.24 788.00,187.91 788.50,187.78 789.00,187.28 789.50,187.34 790.00,187.11 790.50,187.02 791.00,187.13 791.50,186.75 792.00,186.73 792.50,186.36 793.00,186.52 793.50,186.45 794.00,186.24 794.50,186.15 795.00,186.46 795.50,185.92 796.00,185.87 796.50,185.84 797.00,186.09 797.50,186.18 798.00,185.87 798.50,185.68 799.00,185.70 799.50,185.91 800.00,185.61 800.50,186.03 801.00,186.20 801.50,186.25 802.00,186.64 802.50,186.99 803.00,187.44 803.50,187.36 804.00,187.94 804.50,187.88 805.00,187.88 805.50,188.00 806.00,187.92 806.50,187.76 807.00,187.60 807.50,187.61 808.00,187.88 808.50,187.85 809.00,187.54 809.50,187.50 810.00,187.12 810.50,187.06 811.00,186.99 811.50,186.67 812.00,186.56 812.50,186.62 813.00,186.45 813.50,186.25 814.00,186.39 814.50,186.23 815.00,186.38 815.50,186.20 816.00,186.16 816.50,186.23 817.00,186.21 817.50,186.17 818.00,186.25 818.50,186.48 819.00,186.52 819.50,186.69 820.00,186.31 820.50,186.58 821.00,186.65 821.50,186.82 822.00,186.80 822.50,186.87 823.00,187.15 823.50,187.16 824.00,187.06 824.50,187.55 825.00,187.62 825.50,187.51 826.00,187.86 826.50,187.76 827.00,188.19 827.50,188.15 828.00,188.22 828.50,188.45 829.00,188.57 829.50,188.89 830.00,189.07 830.50,189.24 831.00,189.34 831.50,189.07 832.00,189.83 832.50,189.74 833.00,190.27 833.50,190.61 834.00,190.69 834.50,190.80 835.00,191.05 835.50,191.28 836.00,191.43 836.50,191.64 837.00,191.81 837.50,192.35 838.00,192.39 838.50,192.75 839.00,192.79 839.50,193.06 840.00,193.24 840.50,193.55 841.00,193.82 841.50,193.94 842.00,194.01 842.50,194.20 843.00,194.77 843.50,194.68 844.00,194.87 844.50,195.32 845.00,195.44 845.50,195.53 846.00,195.55 846.50,196.12 847.00,195.98 847.50,196.16 848.00,196.21 848.50,196.18 849.00,196.36 849.50,196.78 850.00,196.95 850.50,197.04 851.00,197.09 851.50,197.26 852.00,197.64 852.50,197.70 853.00,198.30 853.50,198.61 854.00,199.14 854.50,199.15 855.00,199.26 855.50,199.57 856.00,199.63 856.50,200.65 857.00,201.44 857.50,202.45 858.00,203.32 858.50,204.30 859.00,205.28 859.50,206.40 860.00,207.58 860.50,208.24 861.00,209.33 861.50,210.26 862.00,211.95 862.50,213.25 863.00,214.60 863.50,215.77 864.00,217.42 864.50,218.75 865.00,220.08 865.50,221.18 866.00,222.23 866.50,222.80 867.00,223.42 867.50,223.41 868.00,222.44 868.50,220.67 869.00,218.41 869.50,216.43 870.00,214.61 870.50,214.04 871.00,213.94 871.50,213.78 872.00,214.14 872.50,213.84 873.00,214.10 873.50,214.06 874.00,213.75 874.50,213.50 875.00,212.67 875.50,211.46 876.00,210.23 876.50,209.61 877.00,208.79 877.50,208.23 878.00,207.50 878.50,207.05 879.00,206.40 879.50,206.08 880.00,205.82 880.50,205.43 881.00,205.04 881.50,204.65 882.00,204.58 882.50,204.38 883.00,204.11 883.50,203.92 884.00,204.08 884.50,204.74 885.00,205.25 885.50,206.52 886.00,207.68 886.50,208.07 887.00,208.71 887.50,208.41 888.00,208.36 888.50,207.61 889.00,206.96 889.50,206.47 890.00,206.02 890.50,205.40 891.00,204.89 891.50,204.06 892.00,203.61 892.50,203.21 893.00,202.95 893.50,202.48 894.00,202.35 894.50,202.75 895.00,203.25 895.50,204.02 896.00,204.61 896.50,204.98 897.00,205.51 897.50,205.99 898.00,206.49 898.50,206.91 899.00,207.13 899.50,207.19 900.00,207.54 900.50,207.43 901.00,207.82 901.50,207.87 902.00,207.67 902.50,208.07 903.00,208.13 903.50,208.05 904.00,208.32 904.50,208.38 905.00,207.95 905.50,208.31 906.00,208.24 906.50,208.25 907.00,208.34 907.50,208.09 908.00,207.96 908.50,207.60 909.00,207.19 909.50,206.82 910.00,206.16 910.50,205.84 911.00,205.74 911.50,205.25 912.00,204.93 912.50,204.24 913.00,204.12 913.50,203.97 914.00,204.01 914.50,204.04 915.00,204.54 915.50,204.76 916.00,205.19 916.50,205.61 917.00,206.11 917.50,206.33 918.00,207.04 918.50,207.45 919.00,207.94 919.50,208.45 920.00,209.01 920.50,209.51 921.00,209.84 921.50,209.98 922.00,210.13 922.50,209.93 923.00,209.87 923.50,209.36 924.00,208.72 924.50,208.92 925.00,208.52 925.50,208.18 926.00,208.22 926.50,208.02 927.00,208.39 927.50,208.06 928.00,207.65 928.50,207.84 929.00,207.54 929.50,207.68 930.00,206.98 930.50,206.48 931.00,206.44 931.50,205.91 932.00,205.34 932.50,204.42 933.00,203.67 933.50,201.80 934.00,198.93 934.50,197.46 935.00,195.83 935.50,195.04 936.00,194.09 936.50,194.06 937.00,194.59 937.50,195.03 938.00,195.54 938.50,196.51 939.00,197.60 939.50,199.40 940.00,202.40 940.50,204.59 941.00,206.91 941.50,209.23 942.00,211.14 942.50,213.39 943.00,215.74 943.50,217.98 944.00,220.31 944.50,222.70 945.00,224.70 945.50,227.07 946.00,229.27 946.50,231.12 947.00,233.38 947.50,235.28 948.00,237.68 948.50,239.77 949.00,241.98 949.50,244.20 950.00,247.02 950.50,249.83 951.00,253.39 951.50,256.86 952.00,260.45 952.50,264.37 953.00,267.82 953.50,270.77 954.00,273.78 954.50,276.08 955.00,278.43 955.50,280.72 956.00,282.73 956.50,284.89 957.00,287.04 957.50,289.44 958.00,291.67 958.50,293.77 959.00,296.53 959.50,298.81 960.00,301.43 960.50,304.10 961.00,306.64 961.50,309.63 962.00,312.01 962.50,314.53 963.00,317.69 963.50,320.25 964.00,323.13 964.50,325.62 965.00,329.16 965.50,332.11 966.00,335.12" fill="none" stroke="#151515" stroke-width="1.7" stroke-linejoin="round"/>
<polyline points="567.00,33.20 567.50,33.34 568.00,32.99 568.50,33.19 569.00,32.85 569.50,32.93 570.00,33.21 570.50,33.08 571.00,32.73 571.50,33.07 572.00,32.96 572.50,32.84 573.00,33.09 573.50,32.92 574.00,32.69 574.50,32.78 575.00,33.35 575.50,32.70 576.00,33.04 576.50,33.12 577.00,33.13 577.50,32.75 578.00,32.94 578.50,33.03 579.00,33.16 579.50,32.87 580.00,32.77 580.50,33.20 581.00,33.22 581.50,33.07 582.00,32.88 582.50,33.08 583.00,33.02 583.50,33.17 584.00,32.75 584.50,33.02 585.00,32.97 585.50,32.78 586.00,33.04 586.50,33.01 587.00,32.92 587.50,33.08 588.00,32.72 588.50,32.99 589.00,33.09 589.50,33.06 590.00,33.22 590.50,32.76 591.00,32.70 591.50,33.05 592.00,33.09 592.50,33.42 593.00,33.12 593.50,32.83 594.00,33.16 594.50,32.83 595.00,32.70 595.50,33.52 596.00,33.07 596.50,33.14 597.00,33.11 597.50,33.36 598.00,33.06 598.50,33.24 599.00,32.79 599.50,32.72 600.00,33.29 600.50,33.29 601.00,33.10 601.50,33.05 602.00,33.03 602.50,32.86 603.00,33.31 603.50,33.13 604.00,33.10 604.50,33.08 605.00,33.21 605.50,33.10 606.00,33.15 606.50,32.77 607.00,33.10 607.50,33.44 608.00,32.90 608.50,32.97 609.00,33.18 609.50,33.19 610.00,33.12 610.50,32.69 611.00,33.15 611.50,32.87 612.00,33.01 612.50,33.38 613.00,33.32 613.50,33.66 614.00,34.26 614.50,33.93 615.00,34.07 615.50,33.91 616.00,34.12 616.50,34.20 617.00,34.48 617.50,34.53 618.00,34.78 618.50,35.03 619.00,35.02 619.50,35.08 620.00,35.23 620.50,35.72 621.00,35.77 621.50,36.09 622.00,36.23 622.50,36.08 623.00,36.42 623.50,36.13 624.00,37.00 624.50,36.92 625.00,36.77 625.50,36.72 626.00,37.16 626.50,36.85 627.00,37.20 627.50,37.64 628.00,37.64 628.50,37.66 629.00,38.09 629.50,37.83 630.00,38.23 630.50,38.20 631.00,38.27 631.50,38.67 632.00,38.51 632.50,39.22 633.00,38.86 633.50,39.51 634.00,39.03 634.50,39.50 635.00,39.27 635.50,39.38 636.00,39.81 636.50,40.04 637.00,39.78 637.50,40.40 638.00,40.13 638.50,40.45 639.00,40.62 639.50,40.79 640.00,40.44 640.50,41.25 641.00,41.16 641.50,41.09 642.00,41.10 642.50,41.09 643.00,41.29 643.50,41.80 644.00,41.75 644.50,41.72 645.00,41.97 645.50,42.52 646.00,42.27 646.50,42.35 647.00,42.86 647.50,42.82 648.00,42.86 648.50,42.86 649.00,42.79 649.50,43.00 650.00,43.26 650.50,43.43 651.00,43.67 651.50,43.83 652.00,43.89 652.50,44.00 653.00,43.88 653.50,43.76 654.00,44.20 654.50,44.23 655.00,44.40 655.50,44.58 656.00,44.49 656.50,44.62 657.00,44.93 657.50,45.07 658.00,45.01 658.50,45.34 659.00,45.28 659.50,45.21 660.00,45.51 660.50,45.96 661.00,45.53 661.50,45.99 662.00,46.11 662.50,46.22 663.00,45.84 663.50,46.50 664.00,46.20 664.50,46.21 665.00,46.30 665.50,46.55 666.00,46.52 666.50,46.56 667.00,46.93 667.50,46.61 668.00,46.62 668.50,47.07 669.00,47.12 669.50,47.28 670.00,46.92 670.50,47.42 671.00,47.37 671.50,47.69 672.00,47.16 672.50,47.51 673.00,47.48 673.50,47.27 674.00,47.50 674.50,47.93 675.00,47.66 675.50,47.66 676.00,48.02 676.50,48.09 677.00,48.13 677.50,47.81 678.00,47.99 678.50,48.24 679.00,47.93 679.50,47.93 680.00,48.27 680.50,48.43 681.00,47.90 681.50,47.63 682.00,47.88 682.50,47.98 683.00,48.17 683.50,48.34 684.00,48.20 684.50,48.11 685.00,48.29 685.50,48.08 686.00,48.28 686.50,48.17 687.00,48.85 687.50,48.49 688.00,48.17 688.50,48.15 689.00,48.28 689.50,48.05 690.00,48.24 690.50,48.25 691.00,48.58 691.50,48.33 692.00,48.27 692.50,48.17 693.00,48.21 693.50,48.44 694.00,48.41 694.50,48.69 695.00,48.34 695.50,48.69 696.00,48.53 696.50,48.48 697.00,48.09 697.50,48.23 698.00,48.64 698.50,48.78 699.00,48.54 699.50,48.65 700.00,48.42 700.50,48.42 701.00,48.35 701.50,48.66 702.00,48.51 702.50,48.37 703.00,48.31 703.50,48.45 704.00,48.35 704.50,48.07 705.00,48.52 705.50,48.17 706.00,48.05 706.50,48.28 707.00,48.11 707.50,47.81 708.00,47.86 708.50,47.45 709.00,47.45 709.50,47.04 710.00,47.64 710.50,46.92 711.00,47.34 711.50,46.94 712.00,46.82 712.50,46.87 713.00,46.87 713.50,46.84 714.00,46.97 714.50,46.59 715.00,46.59 715.50,46.20 716.00,46.36 716.50,46.15 717.00,45.93 717.50,45.91 718.00,45.83 718.50,45.79 719.00,45.74 719.50,45.48 720.00,45.35 720.50,45.57 721.00,45.01 721.50,45.15 722.00,45.51 722.50,44.59 723.00,44.92 723.50,45.13 724.00,44.60 724.50,45.38 725.00,44.28 725.50,45.01 726.00,44.97 726.50,44.77 727.00,44.47 727.50,44.52 728.00,44.19 728.50,44.46 729.00,43.99 729.50,44.08 730.00,44.25 730.50,43.73 731.00,43.79 731.50,43.80 732.00,43.40 732.50,43.79 733.00,43.51 733.50,43.02 734.00,43.19 734.50,42.92 735.00,42.79 735.50,42.74 736.00,42.37 736.50,42.47 737.00,41.89 737.50,41.97 738.00,41.50 738.50,41.41 739.00,40.87 739.50,40.63 740.00,40.27 740.50,40.38 741.00,40.21 741.50,40.19 742.00,39.77 742.50,39.31 743.00,38.98 743.50,38.87 744.00,38.58 744.50,38.71 745.00,38.46 745.50,37.99 746.00,37.92 746.50,38.24 747.00,37.93 747.50,37.74 748.00,37.93 748.50,37.54 749.00,37.48 749.50,37.37 750.00,37.00 750.50,37.50 751.00,37.03 751.50,37.10 752.00,37.02 752.50,37.27 753.00,37.07 753.50,37.06 754.00,36.70 754.50,36.99 755.00,36.70 755.50,37.05 756.00,37.06 756.50,36.97 757.00,37.38 757.50,37.07 758.00,37.07 758.50,36.98 759.00,36.90 759.50,37.13 760.00,37.15 760.50,36.66 761.00,37.13 761.50,37.02 762.00,37.10 762.50,37.00 763.00,36.66 763.50,36.67 764.00,37.27 764.50,36.95 765.00,36.62 765.50,36.97 766.00,36.84 766.50,36.58 767.00,36.55 767.50,36.77 768.00,37.25 768.50,37.30 769.00,37.39 769.50,37.63 770.00,37.83 770.50,37.44 771.00,37.94 771.50,38.01 772.00,38.18 772.50,38.60 773.00,38.98 773.50,39.25 774.00,39.28 774.50,39.70 775.00,40.35 775.50,39.79 776.00,39.60 776.50,39.82 777.00,39.63 777.50,39.29 778.00,38.62 778.50,38.67 779.00,37.95 779.50,37.55 780.00,37.38 780.50,37.23 781.00,37.15 781.50,36.88 782.00,36.51 782.50,36.47 783.00,36.08 783.50,36.05 784.00,35.43 784.50,35.26 785.00,35.61 785.50,35.06 786.00,35.16 786.50,35.09 787.00,34.90 787.50,34.79 788.00,35.05 788.50,34.16 789.00,34.74 789.50,34.92 790.00,34.37 790.50,34.27 791.00,34.33 791.50,34.46 792.00,33.77 792.50,33.95 793.00,33.82 793.50,33.89 794.00,33.75 794.50,33.78 795.00,33.51 795.50,33.55 796.00,33.36 796.50,33.32 797.00,33.38 797.50,33.35 798.00,33.12 798.50,33.64 799.00,33.29 799.50,33.03 800.00,33.52 800.50,33.19 801.00,33.55 801.50,33.61 802.00,33.86 802.50,34.05 803.00,34.10 803.50,34.40 804.00,34.93 804.50,34.15 805.00,34.61 805.50,34.67 806.00,34.34 806.50,34.23 807.00,34.88 807.50,34.31 808.00,34.73 808.50,34.34 809.00,34.17 809.50,34.16 810.00,34.10 810.50,34.12 811.00,33.89 811.50,33.74 812.00,33.67 812.50,33.83 813.00,33.65 813.50,33.23 814.00,33.25 814.50,33.40 815.00,33.19 815.50,33.23 816.00,33.11 816.50,33.25 817.00,33.39 817.50,33.52 818.00,33.33 818.50,33.75 819.00,33.34 819.50,34.00 820.00,33.58 820.50,33.50 821.00,33.32 821.50,32.87 822.00,33.43 822.50,33.51 823.00,33.88 823.50,33.24 824.00,33.92 824.50,33.51 825.00,33.73 825.50,33.10 826.00,33.66 826.50,33.58 827.00,33.80 827.50,33.71 828.00,33.48 828.50,33.91 829.00,33.88 829.50,33.87 830.00,33.97 830.50,34.00 831.00,33.78 831.50,33.52 832.00,33.52 832.50,34.07 833.00,33.94 833.50,33.81 834.00,33.67 834.50,33.73 835.00,33.68 835.50,33.55 836.00,33.41 836.50,33.91 837.00,33.44 837.50,33.18 838.00,32.94 838.50,32.95 839.00,33.13 839.50,33.03 840.00,32.71 840.50,32.65 841.00,32.46 841.50,32.18 842.00,32.54 842.50,32.23 843.00,32.54 843.50,31.77 844.00,31.79 844.50,31.88 845.00,31.55 845.50,31.22 846.00,31.22 846.50,31.35 847.00,31.32 847.50,31.16 848.00,31.32 848.50,31.27 849.00,31.10 849.50,31.02 850.00,30.95 850.50,31.26 851.00,32.14 851.50,33.27 852.00,34.92 852.50,36.47 853.00,38.74 853.50,41.84 854.00,45.23 854.50,47.69 855.00,50.16 855.50,52.15 856.00,54.36 856.50,55.91 857.00,56.40 857.50,55.60 858.00,54.53 858.50,53.20 859.00,51.80 859.50,51.06 860.00,50.09 860.50,48.95 861.00,49.09 861.50,48.72 862.00,48.97 862.50,49.31 863.00,49.66 863.50,51.50 864.00,54.46 864.50,57.96 865.00,59.80 865.50,59.87 866.00,58.95 866.50,57.43 867.00,56.07 867.50,54.12 868.00,52.70 868.50,50.89 869.00,49.63 869.50,47.63 870.00,45.80 870.50,43.91 871.00,42.38 871.50,41.34 872.00,40.71 872.50,39.85 873.00,39.64 873.50,39.68 874.00,38.79 874.50,38.43 875.00,38.01 875.50,37.49 876.00,37.68 876.50,37.12 877.00,36.85 877.50,36.85 878.00,36.67 878.50,35.66 879.00,35.71 879.50,35.23 880.00,34.72 880.50,34.25 881.00,33.67 881.50,33.57 882.00,33.05 882.50,32.80 883.00,33.00 883.50,33.47 884.00,34.36 884.50,35.60 885.00,37.27 885.50,38.35 886.00,39.34 886.50,39.93 887.00,40.22 887.50,39.58 888.00,38.80 888.50,37.52 889.00,35.68 889.50,34.87 890.00,34.17 890.50,33.85 891.00,34.07 891.50,35.41 892.00,36.09 892.50,36.97 893.00,37.66 893.50,37.93 894.00,37.45 894.50,36.30 895.00,34.66 895.50,32.94 896.00,31.87 896.50,30.75 897.00,29.79 897.50,28.60 898.00,28.62 898.50,28.78 899.00,28.78 899.50,29.14 900.00,29.19 900.50,29.55 901.00,31.70 901.50,35.44 902.00,39.12 902.50,41.77 903.00,43.59 903.50,44.24 904.00,45.43 904.50,46.20 905.00,47.50 905.50,49.61 906.00,51.05 906.50,52.19 907.00,51.65 907.50,46.06 908.00,37.64 908.50,31.45 909.00,29.27 909.50,28.07 910.00,26.48 910.50,25.51 911.00,25.25 911.50,24.75 912.00,24.04 912.50,23.19 913.00,23.06 913.50,23.03 914.00,22.75 914.50,23.02 915.00,22.65 915.50,23.56 916.00,24.05 916.50,25.42 917.00,26.32 917.50,27.97 918.00,31.43 918.50,37.15 919.00,43.44 919.50,48.40 920.00,50.82 920.50,53.34 921.00,55.20 921.50,56.47 922.00,57.23 922.50,57.86 923.00,57.02 923.50,54.78 924.00,50.55 924.50,45.88 925.00,40.94 925.50,36.42 926.00,33.68 926.50,32.48 927.00,33.13 927.50,34.04 928.00,35.22 928.50,36.88 929.00,38.87 929.50,39.81 930.00,41.16 930.50,42.70 931.00,44.01 931.50,45.41 932.00,46.91 932.50,48.44 933.00,48.98 933.50,50.50 934.00,51.53 934.50,52.42 935.00,53.29 935.50,54.25 936.00,55.70 936.50,57.04 937.00,59.18 937.50,61.41 938.00,63.46 938.50,64.97 939.00,66.43 939.50,67.45 940.00,68.65 940.50,69.67 941.00,70.42 941.50,71.20 942.00,71.69 942.50,72.21 943.00,72.02 943.50,71.76 944.00,71.76 944.50,71.61 945.00,70.97 945.50,71.48 946.00,71.00 946.50,70.89 947.00,71.20 947.50,71.48 948.00,72.11 948.50,73.56 949.00,73.79 949.50,74.80 950.00,75.89 950.50,76.64 951.00,78.43 951.50,81.28 952.00,84.99 952.50,87.57 953.00,91.27 953.50,95.19 954.00,98.97 954.50,102.57 955.00,106.58 955.50,109.90 956.00,112.90 956.50,115.42 957.00,117.46 957.50,119.19 958.00,120.86 958.50,122.17 959.00,123.89 959.50,125.49 960.00,126.93 960.50,128.68 961.00,130.06 961.50,132.02 962.00,133.61 962.50,134.59 963.00,136.32 963.50,137.89 964.00,140.08 964.50,142.04 965.00,144.67 965.50,147.86 966.00,151.55 966.50,155.14 967.00,159.28 967.50,162.63 968.00,166.12 968.50,168.73 969.00,171.10 969.50,172.79 970.00,174.74 970.50,175.99 971.00,177.93 971.50,179.47 972.00,181.43 972.50,183.50 973.00,185.95 973.50,187.76 974.00,190.74 974.50,192.95 975.00,196.08 975.50,198.04 976.00,200.78 976.50,203.11 977.00,206.14 977.50,207.88 978.00,210.45 978.50,212.59 979.00,214.58 979.50,217.12 980.00,219.56 980.50,221.64 981.00,224.13 981.50,226.13 982.00,228.39 982.50,230.46 983.00,232.73 983.50,235.17 984.00,237.02 984.50,239.19 985.00,241.31 985.50,243.65 986.00,246.58 986.50,248.68 987.00,251.54 987.50,254.81 988.00,258.09 988.50,262.06 989.00,264.75 989.50,268.83 990.00,272.34 990.50,275.42 991.00,279.07 991.50,282.85 992.00,286.59 992.50,289.42 993.00,292.38 993.50,295.66 994.00,298.21 994.50,300.07 995.00,301.80 995.50,304.63 996.00,306.51 996.50,309.18 997.00,311.82 997.50,315.06 998.00,317.38 998.50,319.30 999.00,320.52 999.50,321.12 1000.00,323.11 1000.50,326.18 1001.00,329.00 1001.50,332.58 1001.80,335.30" fill="none" stroke="#d81414" stroke-width="1.9" stroke-linejoin="round"/>
<rect x="567.3" y="12" width="439.9" height="323.4" fill="none" stroke="#222" stroke-width="1.8"/>
<line x1="560.2" y1="335.4" x2="567.3" y2="335.4" stroke="#222" stroke-width="1.8"/>
<line x1="567.20" y1="335.4" x2="567.20" y2="341.9" stroke="#222" stroke-width="1.6"/>
<line x1="598.63" y1="335.4" x2="598.63" y2="338.9" stroke="#222" stroke-width="1.6"/>
<line x1="630.06" y1="335.4" x2="630.06" y2="341.9" stroke="#222" stroke-width="1.6"/>
<line x1="661.49" y1="335.4" x2="661.49" y2="338.9" stroke="#222" stroke-width="1.6"/>
<line x1="692.91" y1="335.4" x2="692.91" y2="341.9" stroke="#222" stroke-width="1.6"/>
<line x1="724.34" y1="335.4" x2="724.34" y2="338.9" stroke="#222" stroke-width="1.6"/>
<line x1="755.77" y1="335.4" x2="755.77" y2="341.9" stroke="#222" stroke-width="1.6"/>
<line x1="787.20" y1="335.4" x2="787.20" y2="338.9" stroke="#222" stroke-width="1.6"/>
<line x1="818.63" y1="335.4" x2="818.63" y2="341.9" stroke="#222" stroke-width="1.6"/>
<line x1="850.06" y1="335.4" x2="850.06" y2="338.9" stroke="#222" stroke-width="1.6"/>
<line x1="881.49" y1="335.4" x2="881.49" y2="341.9" stroke="#222" stroke-width="1.6"/>
<line x1="912.91" y1="335.4" x2="912.91" y2="338.9" stroke="#222" stroke-width="1.6"/>
<line x1="944.34" y1="335.4" x2="944.34" y2="341.9" stroke="#222" stroke-width="1.6"/>
<line x1="975.77" y1="335.4" x2="975.77" y2="338.9" stroke="#222" stroke-width="1.6"/>
<line x1="1007.20" y1="335.4" x2="1007.20" y2="341.9" stroke="#222" stroke-width="1.6"/>
<text x="567.20" y="357.8" class="tk">4000</text>
<text x="630.06" y="357.8" class="tk">3500</text>
<text x="692.91" y="357.8" class="tk">3000</text>
<text x="755.77" y="357.8" class="tk">2500</text>
<text x="818.63" y="357.8" class="tk">2000</text>
<text x="881.49" y="357.8" class="tk">1500</text>
<text x="944.34" y="357.8" class="tk">1000</text>
<text x="1007.20" y="357.8" class="tk">500</text>
<line x1="828.7" y1="84.2" x2="847.40" y2="65.90" stroke="#222" stroke-width="0.9"/>
<polygon points="852.4,61 849.36,67.90 845.44,63.90" fill="#111"/>
<line x1="859.9" y1="86.3" x2="864.47" y2="69.46" stroke="#222" stroke-width="0.9"/>
<polygon points="866.3,62.7 867.17,70.19 861.77,68.72" fill="#111"/>
<line x1="911.5" y1="76.7" x2="907.88" y2="62.97" stroke="#222" stroke-width="0.9"/>
<polygon points="906.1,56.2 910.59,62.26 905.18,63.68" fill="#111"/>
<line x1="911.5" y1="76.7" x2="918.65" y2="64.98" stroke="#222" stroke-width="0.9"/>
<polygon points="922.3,59 921.04,66.43 916.26,63.52" fill="#111"/>
<line x1="944.5" y1="123.7" x2="944.50" y2="90.00" stroke="#222" stroke-width="0.9"/>
<polygon points="944.5,83 947.30,90.00 941.70,90.00" fill="#111"/>
<text x="815.5" y="100.7" class="lb" text-anchor="middle">C=O</text>
<text x="814.4" y="116.8" class="lb" text-anchor="middle">1697</text>
<text x="859.6" y="100.7" class="lb" text-anchor="middle">C=C</text>
<text x="859.6" y="116.8" class="lb" text-anchor="middle">1630</text>
<text x="911.6" y="96.4" class="lb" text-anchor="middle">C-O-C</text>
<text x="912.2" y="112.5" class="lb" text-anchor="middle">1173</text>
<text x="945" y="136.7" class="lb" text-anchor="middle">Ti-O-Si</text>
<text x="946" y="154.5" class="lb" text-anchor="middle">1010</text>
<text x="953.2" y="271.6" class="lb">Ti-O-Ti</text>
<text x="585.0" y="113.2" class="bl">(b)</text>
<line x1="600.9" y1="278.7" x2="626.3" y2="278.7" stroke="#222" stroke-width="1.6"/>
<line x1="600.9" y1="302.8" x2="626.3" y2="302.8" stroke="#c03038" stroke-width="2.2"/>
<text x="631.3" y="282.1" class="lg">TiO<tspan class="sub" dy="6.3">2</tspan></text>
<text x="631.3" y="306.3" class="lg">TiO<tspan class="sub" dy="6.3">2</tspan><tspan dy="-6.3">-Silane</tspan></text>
<text transform="translate(541.2,262.5) rotate(-90)" class="at" style="font-size:22.8px">Transmittance (%)</text>
<text x="688.2" y="393.7" class="at" style="font-size:22.5px">Wavenumber </text>
<text x="826.4" y="393.7" class="at" style="font-size:27.5px">(</text>
<text x="836.0" y="393.7" class="at" style="font-size:22.8px">cm</text>
<text x="865.4" y="384.8" class="at" style="font-size:12.3px">-1</text>
<text x="878.0" y="393.7" class="at" style="font-size:27.5px">)</text>
</svg>
</body></html>
